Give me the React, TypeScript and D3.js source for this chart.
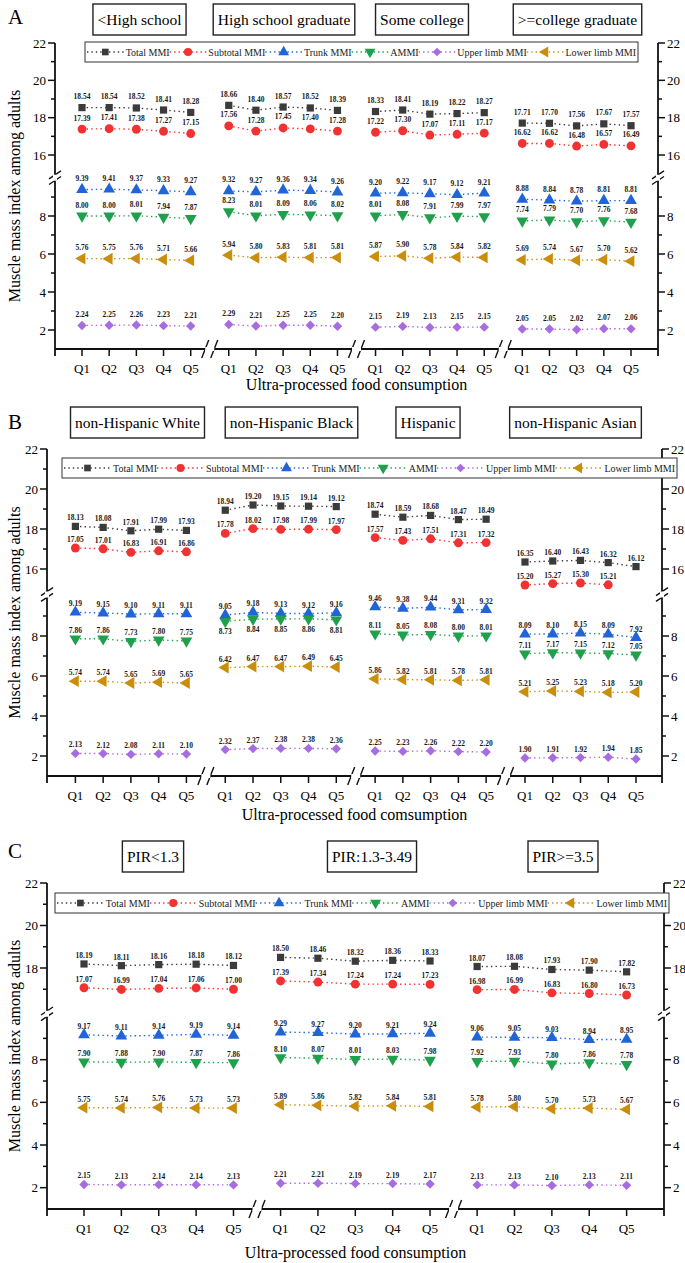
import React, { useRef, useEffect } from "react";
import * as d3 from "d3";

const FONT = "'Liberation Serif', 'Times New Roman', serif";

const quintiles = ["Q1", "Q2", "Q3", "Q4", "Q5"];
const seriesNames = ["Total MMI", "Subtotal MMI", "Trunk MMI", "AMMI", "Upper limb MMI", "Lower limb MMI"];
const seriesColors = ["#3b3b3b", "#f03232", "#2064d6", "#1fa04d", "#a66ce0", "#c98e0b"];

// Panel A - education
const eduGroups = ["<High school", "High school graduate", "Some college", ">=college graduate"];
const eduTotal = [
  [18.54, 18.54, 18.52, 18.41, 18.28],
  [18.66, 18.4, 18.57, 18.52, 18.39],
  [18.33, 18.41, 18.19, 18.22, 18.27],
  [17.71, 17.7, 17.56, 17.67, 17.57],
];
const eduSubtotal = [
  [17.39, 17.41, 17.38, 17.27, 17.15],
  [17.56, 17.28, 17.45, 17.4, 17.28],
  [17.22, 17.3, 17.07, 17.11, 17.17],
  [16.62, 16.62, 16.48, 16.57, 16.49],
];
const eduTrunk = [
  [9.39, 9.41, 9.37, 9.33, 9.27],
  [9.32, 9.27, 9.36, 9.34, 9.26],
  [9.2, 9.22, 9.17, 9.12, 9.21],
  [8.88, 8.84, 8.78, 8.81, 8.81],
];
const eduAmmi = [
  [8.0, 8.0, 8.01, 7.94, 7.87],
  [8.23, 8.01, 8.09, 8.06, 8.02],
  [8.01, 8.08, 7.91, 7.99, 7.97],
  [7.74, 7.79, 7.7, 7.76, 7.68],
];
const eduUpper = [
  [2.24, 2.25, 2.26, 2.23, 2.21],
  [2.29, 2.21, 2.25, 2.25, 2.2],
  [2.15, 2.19, 2.13, 2.15, 2.15],
  [2.05, 2.05, 2.02, 2.07, 2.06],
];
const eduLower = [
  [5.76, 5.75, 5.76, 5.71, 5.66],
  [5.94, 5.8, 5.83, 5.81, 5.81],
  [5.87, 5.9, 5.78, 5.84, 5.82],
  [5.69, 5.74, 5.67, 5.7, 5.62],
];

// Panel B - race
const raceGroups = ["non-Hispanic White", "non-Hispanic Black", "Hispanic", "non-Hispanic Asian"];
const raceTotal = [
  [18.13, 18.08, 17.91, 17.99, 17.93],
  [18.94, 19.2, 19.15, 19.14, 19.12],
  [18.74, 18.59, 18.68, 18.47, 18.49],
  [16.35, 16.4, 16.43, 16.32, 16.12],
];
const raceSubtotal = [
  [17.05, 17.01, 16.83, 16.91, 16.86],
  [17.78, 18.02, 17.98, 17.99, 17.97],
  [17.57, 17.43, 17.51, 17.31, 17.32],
  [15.2, 15.27, 15.3, 15.21, null],
];
const raceTrunk = [
  [9.19, 9.15, 9.1, 9.11, 9.11],
  [9.05, 9.18, 9.13, 9.12, 9.16],
  [9.46, 9.38, 9.44, 9.31, 9.32],
  [8.09, 8.1, 8.15, 8.09, 7.92],
];
const raceAmmi = [
  [7.86, 7.86, 7.73, 7.8, 7.75],
  [8.73, 8.84, 8.85, 8.86, 8.81],
  [8.11, 8.05, 8.08, 8.0, 8.01],
  [7.11, 7.17, 7.15, 7.12, 7.05],
];
const raceUpper = [
  [2.13, 2.12, 2.08, 2.11, 2.1],
  [2.32, 2.37, 2.38, 2.38, 2.36],
  [2.25, 2.23, 2.26, 2.22, 2.2],
  [1.9, 1.91, 1.92, 1.94, 1.85],
];
const raceLower = [
  [5.74, 5.74, 5.65, 5.69, 5.65],
  [6.42, 6.47, 6.47, 6.49, 6.45],
  [5.86, 5.82, 5.81, 5.78, 5.81],
  [5.21, 5.25, 5.23, 5.18, 5.2],
];

// Panel C - poverty income ratio
const pirGroups = ["PIR<1.3", "PIR:1.3-3.49", "PIR>=3.5"];
const pirTotal = [
  [18.19, 18.11, 18.16, 18.18, 18.12],
  [18.5, 18.46, 18.32, 18.36, 18.33],
  [18.07, 18.08, 17.93, 17.9, 17.82],
];
const pirSubtotal = [
  [17.07, 16.99, 17.04, 17.06, 17.0],
  [17.39, 17.34, 17.24, 17.24, 17.23],
  [16.98, 16.99, 16.83, 16.8, 16.73],
];
const pirTrunk = [
  [9.17, 9.11, 9.14, 9.19, 9.14],
  [9.29, 9.27, 9.2, 9.21, 9.24],
  [9.06, 9.05, 9.03, 8.94, 8.95],
];
const pirAmmi = [
  [7.9, 7.88, 7.9, 7.87, 7.86],
  [8.1, 8.07, 8.01, 8.03, 7.98],
  [7.92, 7.93, 7.8, 7.86, 7.78],
];
const pirUpper = [
  [2.15, 2.13, 2.14, 2.14, 2.13],
  [2.21, 2.21, 2.19, 2.19, 2.17],
  [2.13, 2.13, 2.1, 2.13, 2.11],
];
const pirLower = [
  [5.75, 5.74, 5.76, 5.73, 5.73],
  [5.89, 5.86, 5.82, 5.84, 5.81],
  [5.78, 5.8, 5.7, 5.73, 5.67],
];

const symbolSpecs = [
  { type: d3.symbolSquare, size: 52, rotate: 0 },
  { type: d3.symbolCircle, size: 62, rotate: 0 },
  { type: d3.symbolTriangle, size: 60, rotate: 0 },
  { type: d3.symbolTriangle, size: 60, rotate: 180 },
  { type: d3.symbolSquare, size: 44, rotate: 45 },
  { type: d3.symbolTriangle, size: 60, rotate: -90 },
];

const panels = [
  {
    letter: "A", letterY: 24, groups: eduGroups,
    series: [eduTotal, eduSubtotal, eduTrunk, eduAmmi, eduUpper, eduLower],
    boxCenters: [139.5, 284, 422, 577.5], boxTop: 4,
    left: 55, right: 658, y22: 43, upperUnit: 18.67, upperMin: 14.8,
    axisY: 349, lowerUnit: 19, xFirst: 82, xLast: 631, groupGap: 5.4,
    legend: [85, 638, 42, 62], labelDy: -8.5,
    xTitle: "Ultra-processed food consumption", xTitleY: 390, below: [],
  },
  {
    letter: "B", letterY: 429, groups: raceGroups,
    series: [raceTotal, raceSubtotal, raceTrunk, raceAmmi, raceUpper, raceLower],
    boxCenters: [137.5, 291.5, 428, 575.5], boxTop: 407,
    left: 47, right: 662, y22: 449, upperUnit: 20, upperMin: 14.8,
    axisY: 776, lowerUnit: 20, xFirst: 75.4, xLast: 636, groupGap: 5.4,
    legend: [62, 677, 458, 478], labelDy: -6,
    xTitle: "Ultra-processed food comsumption", xTitleY: 820, below: [[3, 1]],
  },
  {
    letter: "C", letterY: 858, groups: pirGroups,
    series: [pirTotal, pirSubtotal, pirTrunk, pirAmmi, pirUpper, pirLower],
    boxCenters: [153, 372, 563], boxTop: 841,
    left: 47, right: 664, y22: 883, upperUnit: 21.25, upperMin: 16,
    axisY: 1209, lowerUnit: 21.33, xFirst: 84, xLast: 626.6, groupGap: 5.26,
    legend: [55, 669, 893, 913], labelDy: -6,
    xTitle: "Ultra-processed food consumption", xTitleY: 1258, below: [],
  },
];

function symbolPath(i, scale = 1) {
  const s = symbolSpecs[i];
  return d3.symbol().type(s.type).size(s.size * scale)();
}

function drawPanel(svg, p) {
  const g = svg.append("g");
  const nG = p.groups.length;
  const lastPos = (nG - 1) * p.groupGap + 4;
  const x = d3.scaleLinear().domain([0, lastPos]).range([p.xFirst, p.xLast]);
  const pos = (gi, qi) => gi * p.groupGap + qi;
  const yUp = d3
    .scaleLinear()
    .domain([p.upperMin, 22])
    .range([p.y22 + (22 - p.upperMin) * p.upperUnit, p.y22]);
  const yLow = d3
    .scaleLinear()
    .domain([1, 10])
    .range([p.axisY, p.axisY - 9 * p.lowerUnit]);
  const y = (v) => (v > 12 ? yUp(v) : yLow(v));
  const breakY = (yUp.range()[0] + yLow.range()[1]) / 2;

  // panel letter
  g.append("text")
    .attr("x", 8)
    .attr("y", p.letterY)
    .style("font-family", FONT)
    .style("font-size", "21px")
    .text(p.letter);

  // group title boxes
  p.groups.forEach((name, i) => {
    const t = g
      .append("text")
      .attr("x", p.boxCenters[i])
      .attr("y", p.boxTop + 21)
      .attr("text-anchor", "middle")
      .style("font-family", FONT)
      .style("font-size", "15.5px")
      .text(name);
    const w = t.node().getComputedTextLength() + 9;
    g.insert("rect", "text")
      .attr("x", p.boxCenters[i] - w / 2)
      .attr("y", p.boxTop)
      .attr("width", w)
      .attr("height", 31)
      .attr("fill", "white")
      .attr("stroke", "#222")
      .attr("stroke-width", 1.4);
  });

  // axes
  const axis = g.append("g").attr("stroke", "#111").attr("fill", "none");
  [p.left, p.right].forEach((ax, side) => {
    const dir = side === 0 ? -1 : 1;
    axis.append("line")
      .attr("x1", ax).attr("x2", ax)
      .attr("y1", p.y22).attr("y2", p.axisY + 7)
      .attr("stroke-width", 1.8);
    const upTicks = d3.range(Math.ceil(p.upperMin + 0.3), 22.01, 1);
    const lowTicks = d3.range(2, 10, 1);
    const ticks = [
      ...upTicks.map((v) => ({ v, yy: yUp(v) })),
      ...lowTicks.map((v) => ({ v, yy: yLow(v) })),
    ];
    ticks.forEach(({ v, yy }) => {
      const major = v % 2 === 0;
      axis.append("line")
        .attr("x1", ax).attr("x2", ax + dir * (major ? 7 : 4))
        .attr("y1", yy).attr("y2", yy)
        .attr("stroke-width", 1.5);
      if (major) {
        g.append("text")
          .attr("x", ax + dir * 9)
          .attr("y", yy + 4.5)
          .attr("text-anchor", side === 0 ? "end" : "start")
          .style("font-family", FONT)
          .style("font-size", "13px")
          .text(v);
      }
    });
    // y break
    g.append("rect")
      .attr("x", ax - 2).attr("y", breakY - 3)
      .attr("width", 4).attr("height", 6)
      .attr("fill", "white");
    [-2.8, 2.8].forEach((d) => {
      axis.append("line")
        .attr("x1", ax - 6).attr("y1", breakY + d + 4)
        .attr("x2", ax + 6).attr("y2", breakY + d - 4)
        .attr("stroke-width", 1.4);
    });
  });

  // x axis
  axis.append("line")
    .attr("x1", p.left).attr("x2", p.right)
    .attr("y1", p.axisY).attr("y2", p.axisY)
    .attr("stroke-width", 1.8);
  p.groups.forEach((_, gi) => {
    quintiles.forEach((q, qi) => {
      const xx = x(pos(gi, qi));
      axis.append("line")
        .attr("x1", xx).attr("x2", xx)
        .attr("y1", p.axisY).attr("y2", p.axisY + 7)
        .attr("stroke-width", 1.5);
      g.append("text")
        .attr("x", xx)
        .attr("y", p.axisY + 24)
        .attr("text-anchor", "middle")
        .style("font-family", FONT)
        .style("font-size", "13px")
        .text(q);
    });
    if (gi < nG - 1) {
      const cx = x(pos(gi, 4) + (p.groupGap - 4) / 2);
      g.append("rect")
        .attr("x", cx - 4.5).attr("y", p.axisY - 2)
        .attr("width", 9).attr("height", 4)
        .attr("fill", "white");
      [-4.5, 4.5].forEach((d) => {
        axis.append("line")
          .attr("x1", cx + d - 3.5).attr("y1", p.axisY + 9)
          .attr("x2", cx + d + 3.5).attr("y2", p.axisY - 9)
          .attr("stroke-width", 1.4);
      });
    }
  });

  // axis titles
  g.append("text")
    .attr("transform", `translate(20,${(p.y22 + p.axisY) / 2}) rotate(-90)`)
    .attr("text-anchor", "middle")
    .style("font-family", FONT)
    .style("font-size", "16px")
    .text("Muscle mass index among adults");
  g.append("text")
    .attr("x", (p.left + p.right) / 2)
    .attr("y", p.xTitleY)
    .attr("text-anchor", "middle")
    .style("font-family", FONT)
    .style("font-size", "16px")
    .text(p.xTitle);

  // legend
  const [lx0, lx1, ly0, ly1] = p.legend;
  const leg = g.append("g");
  leg.append("rect")
    .attr("x", lx0).attr("y", ly0)
    .attr("width", lx1 - lx0).attr("height", ly1 - ly0)
    .attr("fill", "white")
    .attr("stroke", "#333")
    .attr("stroke-width", 1);
  const ly = (ly0 + ly1) / 2;
  const texts = seriesNames.map((n) =>
    leg.append("text")
      .attr("y", ly + 3.5)
      .style("font-family", FONT)
      .style("font-size", "10px")
      .attr("fill", "#222")
      .text(n)
  );
  const widths = texts.map((t) => t.node().getComputedTextLength());
  const sampleW = (lx1 - lx0 - 4 - d3.sum(widths) - 6 * 2) / 6;
  let cx = lx0 + 2;
  seriesNames.forEach((n, i) => {
    leg.append("line")
      .attr("x1", cx).attr("x2", cx + sampleW)
      .attr("y1", ly).attr("y2", ly)
      .attr("stroke", seriesColors[i])
      .attr("stroke-width", 1.3)
      .attr("stroke-dasharray", "1.4,3");
    leg.append("path")
      .attr("d", symbolPath(i, 0.85))
      .attr("transform", `translate(${cx + sampleW / 2},${ly}) rotate(${symbolSpecs[i].rotate})`)
      .attr("fill", seriesColors[i]);
    texts[i].attr("x", cx + sampleW + 2);
    cx += sampleW + 2 + widths[i];
  });

  // series
  p.series.forEach((ser, si) => {
    ser.forEach((vals, gi) => {
      const pts = vals
        .map((v, qi) => ({ v, qi }))
        .filter((d) => d.v != null);
      const line = d3
        .line()
        .x((d) => x(pos(gi, d.qi)))
        .y((d) => y(d.v));
      g.append("path")
        .datum(pts)
        .attr("d", line)
        .attr("fill", "none")
        .attr("stroke", seriesColors[si])
        .attr("stroke-width", 1.4)
        .attr("stroke-dasharray", "1.4,3.2");
      const below = p.below.some(([s, gg]) => s === si && gg === gi);
      pts.forEach((d) => {
        const xx = x(pos(gi, d.qi));
        const yy = y(d.v);
        g.append("path")
          .attr("d", symbolPath(si))
          .attr("transform", `translate(${xx},${yy}) rotate(${symbolSpecs[si].rotate})`)
          .attr("fill", seriesColors[si]);
        g.append("text")
          .attr("x", xx)
          .attr("y", below ? yy + 13 : yy + p.labelDy)
          .attr("text-anchor", "middle")
          .style("font-family", FONT)
          .style("font-size", "7.5px")
          .style("font-weight", "bold")
          .attr("fill", "#1a1a1a")
          .text(d.v.toFixed(2));
      });
    });
  });
}

export default function App() {
  const ref = useRef(null);

  useEffect(() => {
    const svg = d3.select(ref.current);
    svg.selectAll("*").remove();
    svg.append("rect").attr("width", 685).attr("height", 1263).attr("fill", "white");
    panels.forEach((p) => drawPanel(svg, p));
  }, []);

  return (
    <svg
      ref={ref}
      width={685}
      height={1263}
      style={{ position: "absolute", left: 0, top: 0, background: "white" }}
    />
  );
}
